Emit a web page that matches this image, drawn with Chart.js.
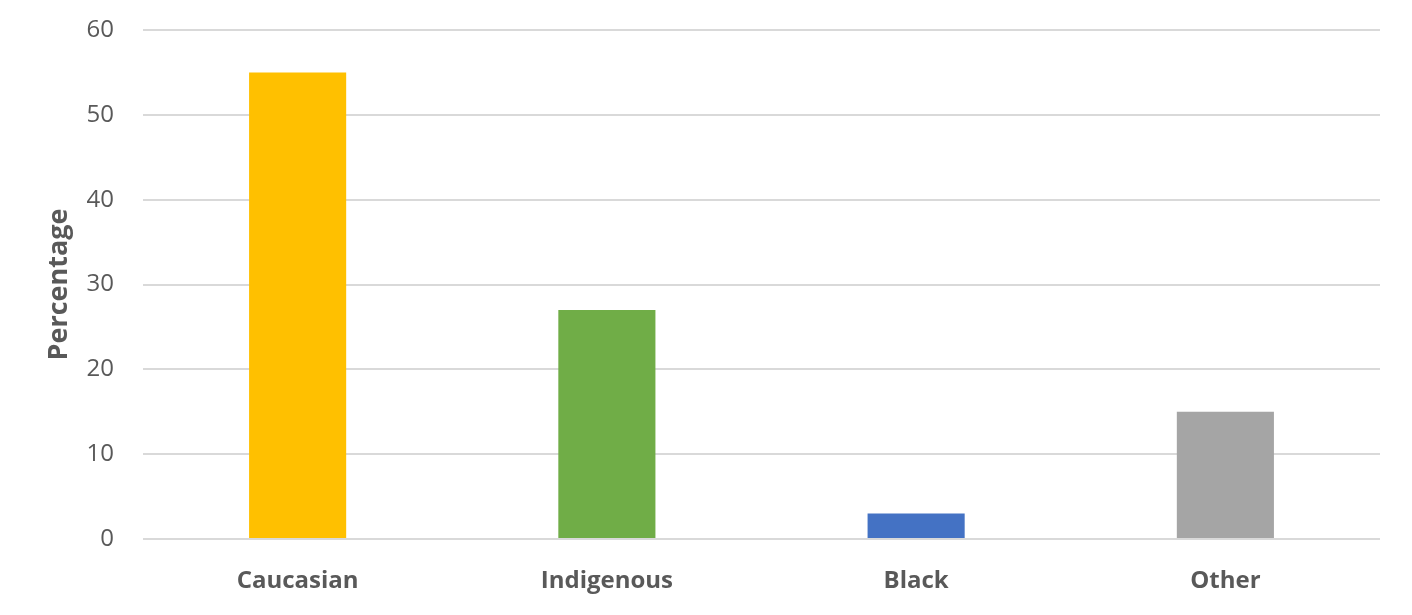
<!DOCTYPE html>
<html>
<head>
<meta charset="utf-8">
<script src="https://cdn.jsdelivr.net/npm/chart.js@4.4.1/dist/chart.umd.min.js"></script>
<style>
  html, body { margin: 0; padding: 0; background: #ffffff; }
  #wrap { width: 1412px; height: 615px; position: relative; }
</style>
</head>
<body>
<div id="wrap"><canvas id="grafico"></canvas></div>
<script>
const categorias = ["Caucasian", "Indigenous", "Black", "Other"];
const porcentajes = [55, 27, 3, 15];
const colores = ["#FFC000", "#70AD47", "#4472C4", "#A5A5A5"];
const ticksY = [0, 10, 20, 30, 40, 50, 60];

const textoGris = "#595959";
const fuente = "'Open Sans', 'Segoe UI', sans-serif";

const ctx = document.getElementById("grafico");

new Chart(ctx, {
  type: "bar",
  data: {
    labels: categorias,
    datasets: [{
      label: "Percentage",
      data: porcentajes,
      backgroundColor: colores,
      borderWidth: 0,
      barPercentage: 0.314,
      categoryPercentage: 1.0
    }]
  },
  options: {
    responsive: true,
    maintainAspectRatio: false,
    animation: false,
    layout: {
      padding: { left: 43, right: 32, top: 30, bottom: 0 }
    },
    plugins: {
      legend: { display: false },
      tooltip: { enabled: false }
    },
    scales: {
      x: {
        grid: { display: false, drawTicks: false },
        border: { display: false },
        ticks: {
          color: textoGris,
          padding: 28,
          font: { family: fuente, size: 24, weight: "bold" }
        },
        afterFit: (escala) => { escala.height = 615 - 539; }
      },
      y: {
        min: 0,
        max: 60,
        afterBuildTicks: (escala) => {
          escala.ticks = ticksY.map(v => ({ value: v }));
        },
        grid: { color: "#D9D9D9", lineWidth: 2, drawTicks: false },
        border: { display: false },
        ticks: {
          color: textoGris,
          padding: 29,
          font: { family: fuente, size: 24 }
        },
        title: {
          display: true,
          text: "Percentage",
          color: textoGris,
          padding: 0,
          font: { family: fuente, size: 27, weight: "bold" }
        },
        afterFit: (escala) => {
          escala.width = 143 - 43;
          // the tick padding must not push the plot area down
          escala.paddingTop = 0;
          escala.paddingBottom = 0;
        }
      }
    }
  }
});
</script>
</body>
</html>
